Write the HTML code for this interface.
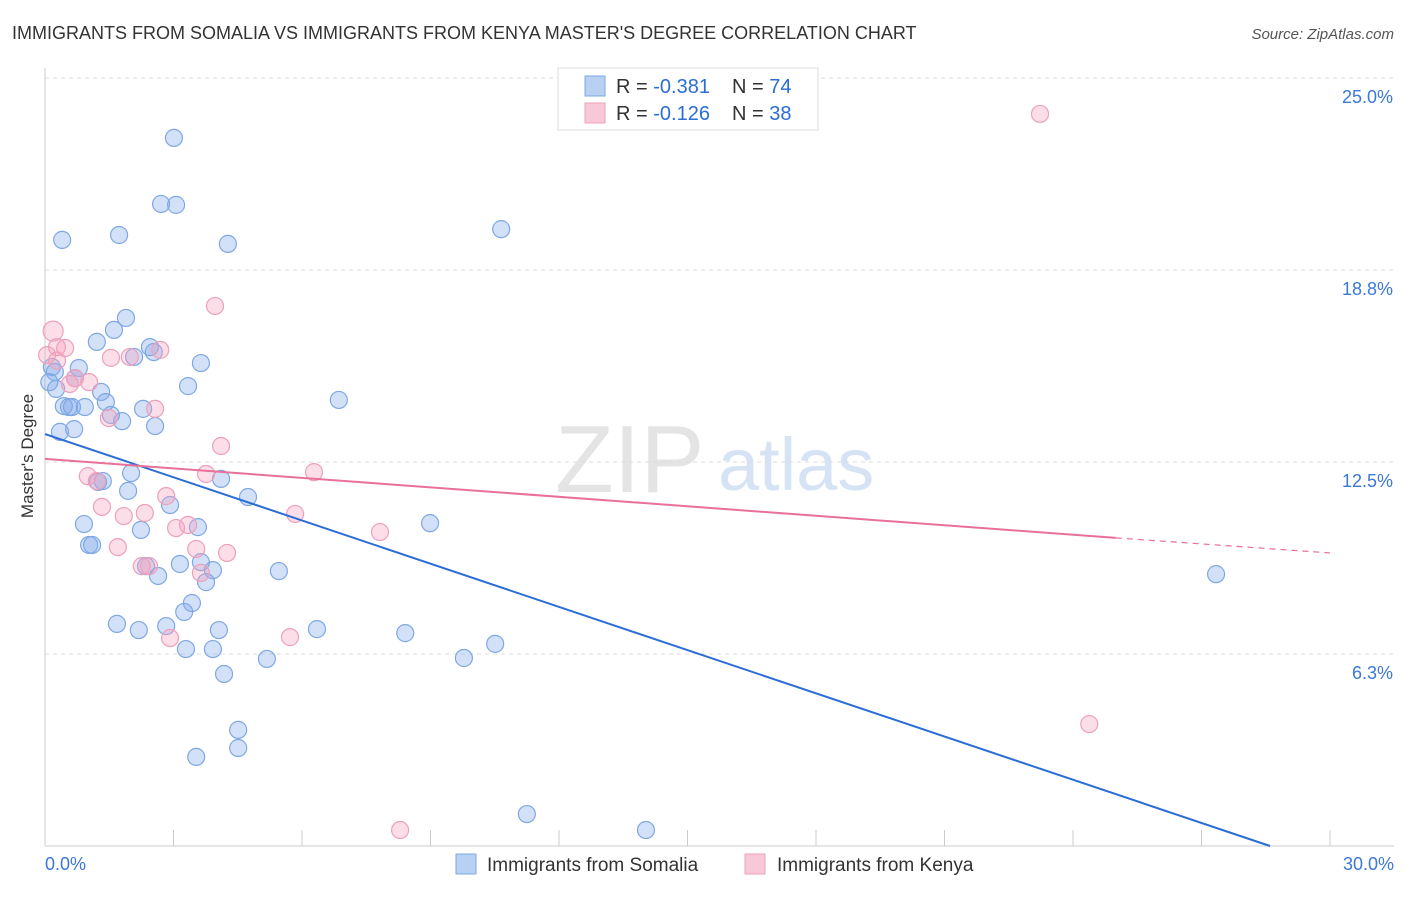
<!DOCTYPE html>
<html><head><meta charset="utf-8"><style>
body{margin:0;background:#fff;font-family:"Liberation Sans",sans-serif}
svg text{font-family:"Liberation Sans",sans-serif}
</style></head><body>
<svg id="chart" width="1406" height="892" xmlns="http://www.w3.org/2000/svg">
<text x="12" y="39" font-size="18" fill="#333">IMMIGRANTS FROM SOMALIA VS IMMIGRANTS FROM KENYA MASTER'S DEGREE CORRELATION CHART</text>
<text x="1394" y="39" font-size="15" fill="#555" text-anchor="end" font-style="italic">Source: ZipAtlas.com</text>
<text x="555" y="492" font-size="96" fill="#e4e4e4" font-family="Liberation Serif">ZIP</text>
<text x="718" y="490" font-size="74" fill="#d5e3f5">atlas</text>
<text transform="translate(33,456) rotate(-90)" font-size="17" fill="#333" text-anchor="middle">Master's Degree</text>
<g id="grid"></g><g id="axes"></g><g id="marks"></g>
<g>
<rect x="558" y="68" width="260" height="62" fill="#fff" stroke="#ddd"/>
<rect x="585" y="76" width="20" height="20" fill="#b8d0f2" stroke="#7ea8e4"/>
<rect x="585" y="103" width="20" height="20" fill="#f9c8d8" stroke="#eea0ba"/>
<text x="616" y="93" font-size="20" fill="#333">R = <tspan fill="#2a6dd6">-0.381</tspan></text>
<text x="732" y="93" font-size="20" fill="#333">N = <tspan fill="#2a6dd6">74</tspan></text>
<text x="616" y="120" font-size="20" fill="#333">R = <tspan fill="#2a6dd6">-0.126</tspan></text>
<text x="732" y="120" font-size="20" fill="#333">N = <tspan fill="#2a6dd6">38</tspan></text>
</g>
<g>
<rect x="456" y="854" width="20" height="20" fill="#b8d0f2" stroke="#7ea8e4"/>
<text x="487" y="871" font-size="19" fill="#333">Immigrants from Somalia</text>
<rect x="745" y="854" width="20" height="20" fill="#f9c8d8" stroke="#eea0ba"/>
<text x="777" y="871" font-size="19" fill="#333">Immigrants from Kenya</text>
</g>
</svg>
<script>
const yTicks=[6.25,12.5,18.75,25];
const yTickLabels=["6.3%","12.5%","18.8%","25.0%"];
const xTicks=[0,3,6,9,12,15,18,21,24,27,30];
const somaliaX=[3.01,2.71,3.06,0.40,1.73,4.27,10.65,1.89,1.61,1.21,2.45,2.54,2.08,3.64,0.16,0.79,0.23,0.70,3.34,0.26,1.31,1.42,6.86,0.44,0.56,0.63,0.93,2.29,1.54,1.80,2.57,0.35,0.68,2.01,4.11,1.24,1.35,1.94,4.74,2.92,0.91,2.24,3.57,8.99,1.03,1.10,3.15,3.64,3.92,5.46,2.36,2.64,3.76,3.43,3.25,1.68,2.19,2.83,4.06,6.35,8.41,3.29,3.92,5.18,9.78,10.51,4.18,4.51,4.51,3.53,11.25,14.03,27.34,0.1];
const somaliaY=[23.05,20.9,20.87,19.73,19.89,19.6,20.08,17.19,16.8,16.41,16.24,16.08,15.92,15.72,15.59,15.56,15.43,15.23,14.97,14.88,14.78,14.45,14.52,14.32,14.29,14.29,14.29,14.23,14.03,13.83,13.67,13.48,13.57,12.14,11.95,11.85,11.88,11.56,11.36,11.1,10.48,10.29,10.38,10.51,9.8,9.8,9.18,9.24,8.98,8.95,9.11,8.79,8.59,7.91,7.62,7.23,7.03,7.16,7.03,7.06,6.93,6.41,6.41,6.09,6.12,6.58,5.6,3.78,3.19,2.9,1.04,0.52,8.85,15.1];
const kenyaX=[23.23,3.97,0.19,0.28,0.47,0.05,2.69,1.98,1.54,1.03,0.70,0.58,1.49,2.57,4.11,1.0,1.21,3.76,6.28,2.83,1.33,1.84,2.33,5.84,7.82,3.06,3.34,1.70,3.53,4.25,2.26,2.43,3.64,2.92,5.72,24.38,8.29,0.28];
const kenyaY=[23.83,17.58,16.76,16.24,16.21,15.98,16.15,15.92,15.89,15.1,15.23,15.04,13.93,14.23,13.02,12.04,11.88,12.11,12.17,11.39,11.04,10.74,10.84,10.81,10.22,10.35,10.45,9.73,9.67,9.54,9.11,9.11,8.89,6.77,6.8,3.97,0.52,15.8];
const somaliaTrend=[[0,13.41],[28.6,0]];
const kenyaTrend=[[0,12.6],[25,10.03]];
const kenyaTrendDash=[[25,10.03],[30,9.54]];
const NS="http://www.w3.org/2000/svg";
const X=v=>45+v*(1285/30);
const Y=v=>846-v*30.72;
function mk(tag,attrs,parent){const e=document.createElementNS(NS,tag);for(const k in attrs)e.setAttribute(k,attrs[k]);parent.appendChild(e);return e;}
const grid=document.getElementById('grid'),axes=document.getElementById('axes'),marks=document.getElementById('marks');
mk('line',{x1:45,y1:Y(25),x2:1394,y2:Y(25),stroke:'#ddd','stroke-dasharray':'4,4'},grid);
yTicks.forEach((t,i)=>{
const l=mk('line',{x1:45,y1:Y(t),x2:1394,y2:Y(t),stroke:'#ddd','stroke-dasharray':'4,4'},grid);


const tx=mk('text',{x:1393,y:Y(t)+25,'font-size':18,fill:'#3b78d8','text-anchor':'end'},axes);
tx.textContent=yTickLabels[i];


});
mk('line',{x1:45,y1:68,x2:45,y2:846,stroke:'#ccc'},axes);
mk('line',{x1:45,y1:846,x2:1394,y2:846,stroke:'#ccc'},axes);
xTicks.forEach(t=>{const l=mk('line',{x1:X(t),y1:830,x2:X(t),y2:846,stroke:'#ccc'},axes);

});
let a=mk('text',{x:45,y:870,'font-size':18,fill:'#3b78d8'},axes);a.textContent='0.0%';


a=mk('text',{x:1394,y:870,'font-size':18,fill:'#3b78d8','text-anchor':'end'},axes);a.textContent='30.0%';


somaliaX.forEach((v,i)=>{const c=mk('circle',{cx:X(v),cy:Y(somaliaY[i]),r:8.5,fill:'rgba(130,170,235,0.35)',stroke:'#7ea8e4','stroke-width':1.2},marks);

});
kenyaX.forEach((v,i)=>{const c=mk('circle',{cx:X(v),cy:Y(kenyaY[i]),r:i==2?10:8.5,fill:'rgba(245,160,190,0.35)',stroke:'#eea0ba','stroke-width':1.2},marks);

});
let t=mk('line',{x1:X(somaliaTrend[0][0]),y1:Y(somaliaTrend[0][1]),x2:X(somaliaTrend[1][0]),y2:Y(somaliaTrend[1][1]),stroke:'#2a6dd6','stroke-width':2},marks);


t=mk('line',{x1:X(kenyaTrend[0][0]),y1:Y(kenyaTrend[0][1]),x2:X(kenyaTrend[1][0]),y2:Y(kenyaTrend[1][1]),stroke:'#e8709a','stroke-width':2},marks);


t=mk('line',{x1:X(kenyaTrendDash[0][0]),y1:Y(kenyaTrendDash[0][1]),x2:X(kenyaTrendDash[1][0]),y2:Y(kenyaTrendDash[1][1]),stroke:'#e8709a','stroke-width':1.2,'stroke-dasharray':'6,5'},marks);


</script>
</body></html>
